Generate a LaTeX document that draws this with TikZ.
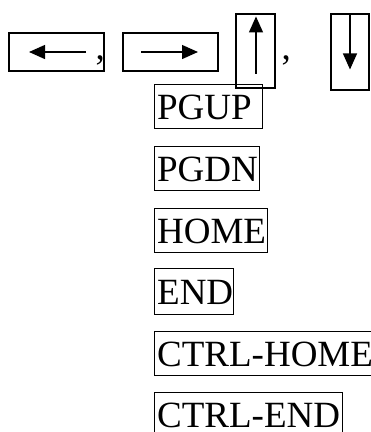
\documentclass[tikz,border=0pt]{standalone}
\usepackage{fontspec}
\setmainfont{Liberation Serif}
\usetikzlibrary{arrows.meta,calc}
\begin{document}
\begin{tikzpicture}[x=1pt,y=-1pt,
  keybox/.style={draw,line width=1.1pt,inner sep=0pt},
  keytext/.style={draw,line width=1.3pt,anchor=north west,inner ysep=0pt,inner xsep=2.5pt,
    align=left,text height=35pt,text depth=9pt,font=\fontsize{37}{40}\selectfont},
  comma/.style={anchor=base west,inner sep=0pt,font=\fontsize{37}{40}\selectfont},
  keyarrow/.style={line width=1.3pt,-{Triangle[length=16pt,width=14pt]}}]
\clip (0,0) rectangle (371,432);
% arrow keys
\node[keybox,minimum width=95pt,minimum height=38pt] (lk) at (56.5,52) {};
\node[keybox,minimum width=95pt,minimum height=38pt] (rk) at (170.5,52) {};
\node[keybox,minimum width=39pt,minimum height=74pt] (uk) at (255.5,51) {};
\node[keybox,minimum width=38pt,minimum height=76pt] (dk) at (350,52) {};
\coordinate (la) at ($(lk.center)+(29.5,0)$);
\coordinate (lb) at ($(lk.center)+(-27.5,0)$);
\coordinate (ra) at ($(rk.center)+(-29.5,0)$);
\coordinate (rb) at ($(rk.center)+(27.5,0)$);
\coordinate (ua) at ($(uk.south)+(0.5,-15)$);
\coordinate (ub) at ($(uk.north)+(0.5,3)$);
\coordinate (da) at (dk.north);
\coordinate (db) at ($(dk.north)+(0,56)$);
\draw[keyarrow] (la) -- (lb);
\draw[keyarrow] (ra) -- (rb);
\draw[keyarrow] (ua) -- (ub);
\draw[keyarrow] (da) -- (db);
\node[comma] (c1) at (95.5,59) {,};
\node[comma] (c2) at (281.5,59) {,};
% text keys
\node[keytext,text width=103pt] (pgup) at (154,84) {PGUP};
\node[keytext,text width=100pt] (pgdn) at (154,146) {PGDN};
\node[keytext,text width=108pt] (home) at (154,208) {HOME};
\node[keytext,text width=74pt,text height=36pt,text depth=10pt] (end) at (154,268) {END};
\node[keytext,text width=222pt] (chome) at (154,331) {CTRL-HOME};
\node[keytext,text width=183pt] (cend) at (154,392) {CTRL-END};
\end{tikzpicture}
\end{document}
